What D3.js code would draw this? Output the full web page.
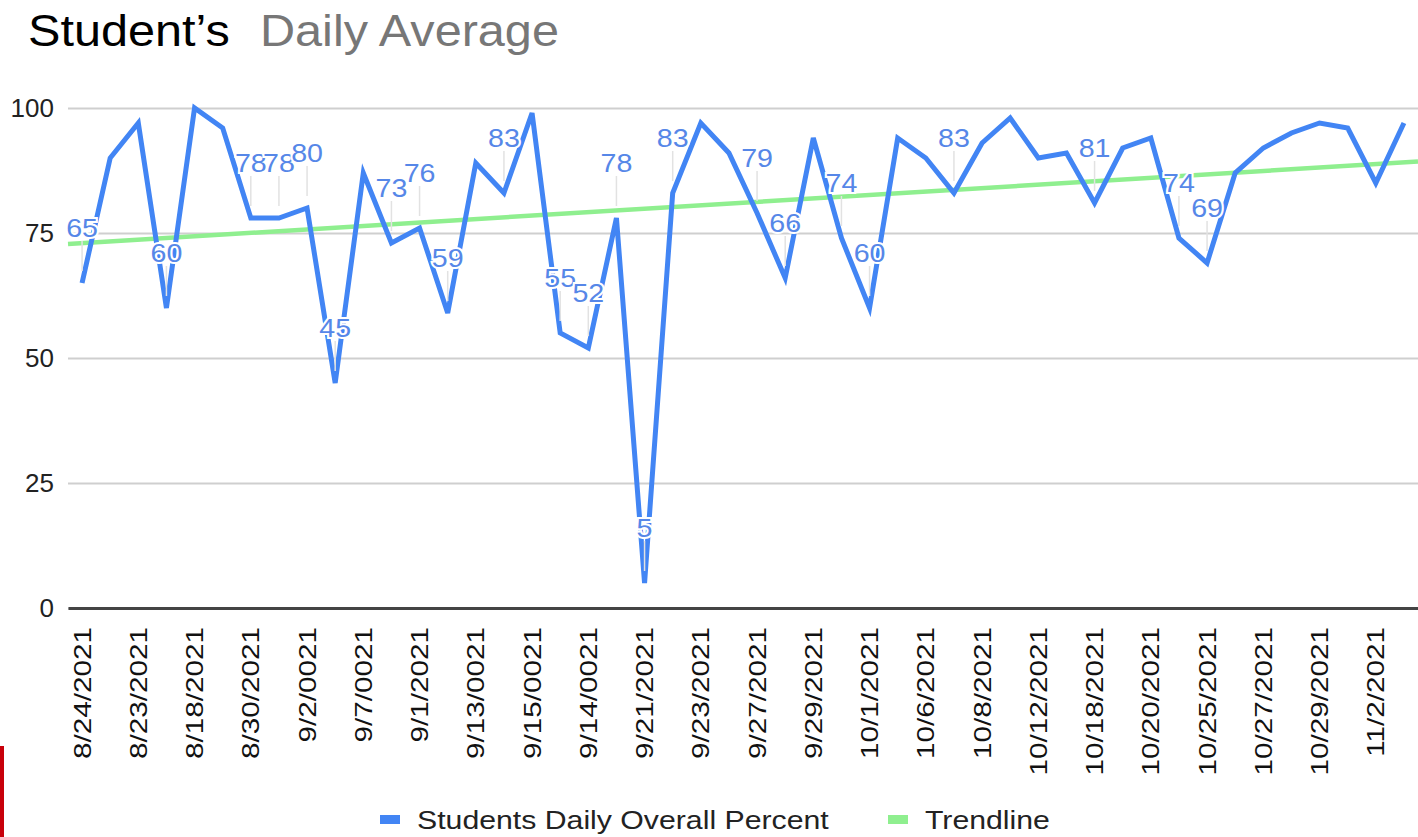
<!DOCTYPE html>
<html>
<head>
<meta charset="utf-8">
<script src="https://cdn.jsdelivr.net/npm/d3@7"></script>
<style>
  body { margin: 0; background: #fff; }
  svg { display: block; font-family: Arial, "Liberation Sans", sans-serif; }
</style>
</head>
<body>
<script>
// dates as printed on the axis (one per point, only every other one is shown)
var dates = [
  "8/24/2021", "8/24/2021b", "8/23/2021", "8/23/2021b", "8/18/2021", "8/18/2021b",
  "8/30/2021", "8/30/2021b", "9/2/0021", "9/2/0021b", "9/7/0021", "9/7/0021b",
  "9/1/2021", "9/1/2021b", "9/13/0021", "9/13/0021b", "9/15/0021", "9/15/0021b",
  "9/14/0021", "9/14/0021b", "9/21/2021", "9/21/2021b", "9/23/2021", "9/23/2021b",
  "9/27/2021", "9/27/2021b", "9/29/2021", "9/29/2021b", "10/1/2021", "10/1/2021b",
  "10/6/2021", "10/6/2021b", "10/8/2021", "10/8/2021b", "10/12/2021", "10/12/2021b",
  "10/18/2021", "10/18/2021b", "10/20/2021", "10/20/2021b", "10/25/2021", "10/25/2021b",
  "10/27/2021", "10/27/2021b", "10/29/2021", "10/29/2021b", "11/2/2021", "11/2/2021b"
];

var percent = [
  65, 90, 97, 60, 100, 96, 78, 78, 80, 45, 87, 73,
  76, 59, 89, 83, 99, 55, 52, 78, 5, 83, 97, 91,
  79, 66, 94, 74, 60, 94, 90, 83, 93, 98, 90, 91,
  81, 92, 94, 74, 69, 87, 92, 95, 97, 96, 85, 97
];

// indexes of the points that carry a value label
var labelled = [0, 3, 6, 7, 8, 9, 11, 12, 13, 15, 17, 18, 19, 20, 21, 24, 25, 27, 28, 31, 36, 39, 40];

// trendline read at the left and right edge of the plot
var trendEnds = [72.8, 89.3];

var yTicks = [0, 25, 50, 75, 100];

var width = 1418, height = 837;
var margin = {top: 108, right: 0, bottom: 229, left: 68};
var plotW = width - margin.left - margin.right,
    plotH = height - margin.top - margin.bottom;

var blue = "#4285f4", green = "#8fef8f";

var svg = d3.select("body").append("svg")
  .attr("width", width)
  .attr("height", height);

// title (the capture is a bit stretched sideways)
var title = svg.append("text")
  .attr("transform", "translate(28,46) scale(1.08,1)")
  .attr("font-size", 45);
title.append("tspan").attr("fill", "#000").text("Student\u2019s");
title.append("tspan").attr("fill", "#777").attr("dx", 28).text("Daily Average");

var g = svg.append("g")
  .attr("transform", "translate(" + margin.left + "," + margin.top + ")");

var x = d3.scalePoint()
  .domain(dates)
  .range([0, plotW])
  .padding(0.5);

var y = d3.scaleLinear()
  .domain([0, 100])
  .range([plotH, 0]);

// gridlines + y labels
g.append("g")
  .call(d3.axisLeft(y).tickValues(yTicks).tickSize(-plotW).tickPadding(14))
  .call(function(a) {
    a.select(".domain").remove();
    a.selectAll(".tick line").attr("stroke", "#cfcfcf").attr("stroke-width", 2);
    a.selectAll(".tick text").attr("font-size", 26).attr("fill", "#222")
      .attr("font-family", "Arial, 'Liberation Sans', sans-serif");
  });

// baseline + x labels
g.append("g")
  .attr("transform", "translate(0," + plotH + ")")
  .call(d3.axisBottom(x)
    .tickValues(dates.filter(function(d, i) { return i % 2 === 0; }))
    .tickSize(0)
    .tickFormat(function(d) { return d; }))
  .call(function(a) {
    a.select(".domain").attr("stroke", "#444").attr("stroke-width", 3);
    a.selectAll(".tick text")
      .attr("font-size", 23)
      .attr("fill", "#111")
      .attr("font-family", "Arial, 'Liberation Sans', sans-serif")
      .attr("text-anchor", "end")
      .attr("dy", "0.35em")
      .attr("transform", "translate(0,19) rotate(-90) scale(1.29,1)")
      .attr("x", 0)
      .attr("y", 0);
  });

// trendline
var xi = d3.scaleLinear().domain([0, 1]).range([0, plotW]);
g.append("line")
  .attr("x1", xi(0)).attr("x2", xi(1))
  .attr("y1", y(trendEnds[0])).attr("y2", y(trendEnds[1]))
  .attr("stroke", green)
  .attr("stroke-width", 4.5);

// main series
var pts = percent.map(function(v, i) { return {d: dates[i], v: v}; });
var line = d3.line()
  .x(function(p) { return x(p.d); })
  .y(function(p) { return y(p.v); });

g.append("path")
  .datum(pts)
  .attr("fill", "none")
  .attr("stroke", blue)
  .attr("stroke-width", 5)
  .attr("stroke-linejoin", "miter")
  .attr("d", line);

// value labels with leader lines
var lab = g.selectAll(".lab")
  .data(labelled.map(function(i) { return pts[i]; }))
  .enter().append("g")
  .attr("class", "lab");

lab.append("line")
  .attr("x1", function(p) { return x(p.d); })
  .attr("x2", function(p) { return x(p.d); })
  .attr("y1", function(p) { return y(p.v) - 42; })
  .attr("y2", function(p) { return y(p.v) - 12; })
  .attr("stroke", "#e2e2e2")
  .attr("stroke-width", 1.5);

lab.append("text")
  .attr("transform", function(p) {
    return "translate(" + x(p.d) + "," + (y(p.v) - 46) + ") scale(1.1,1)";
  })
  .attr("text-anchor", "middle")
  .attr("font-size", 26)
  .attr("fill", "#5687e8")
  .attr("stroke", "#fff")
  .attr("stroke-width", 4)
  .attr("paint-order", "stroke")
  .text(function(p) { return p.v; });

// legend
var legend = svg.append("g").attr("transform", "translate(0,820)");
var items = [
  {name: "Students Daily Overall Percent", color: blue, x: 380},
  {name: "Trendline", color: green, x: 888}
];
var li = legend.selectAll("g").data(items).enter().append("g")
  .attr("transform", function(d) { return "translate(" + d.x + ",0)"; });
li.append("rect")
  .attr("x", 0).attr("y", -5)
  .attr("width", 20).attr("height", 9)
  .attr("fill", function(d) { return d.color; });
li.append("text")
  .attr("transform", "translate(37,9) scale(1.21,1)")
  .attr("font-size", 25)
  .attr("fill", "#222")
  .text(function(d) { return d.name; });

// red edge mark in the corner of the original capture
svg.append("rect")
  .attr("x", 0).attr("y", 746)
  .attr("width", 4).attr("height", 91)
  .attr("fill", "#c8000a");
</script>
</body>
</html>
